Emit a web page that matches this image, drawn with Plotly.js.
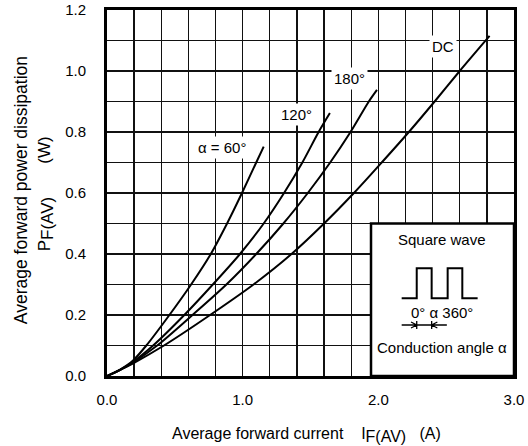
<!DOCTYPE html>
<html>
<head>
<meta charset="utf-8">
<script src="https://cdn.plot.ly/plotly-3.0.1.min.js"></script>
<style>html,body{margin:0;padding:0;background:#fff;}#chart{width:528px;height:446px;}</style>
</head>
<body>
<div id="chart"></div>
<script>
// ---- data ----
const seriesNames = ['α = 60°', '120°', '180°', 'DC'];

const current60 = [0, 0.1, 0.19, 0.29, 0.46, 0.62, 0.765, 0.885, 0.995, 1.1, 1.155];
const power60   = [0, 0.022, 0.05, 0.1, 0.2, 0.3, 0.4, 0.5, 0.6, 0.7, 0.752];

const current120 = [0, 0.1, 0.19, 0.34, 0.57, 0.78, 0.98, 1.155, 1.305, 1.44, 1.56, 1.643];
const power120   = [0, 0.021, 0.046, 0.1, 0.2, 0.3, 0.4, 0.5, 0.6, 0.7, 0.8, 0.862];

const current180 = [0, 0.1, 0.19, 0.37, 0.63, 0.88, 1.1, 1.3, 1.48, 1.645, 1.795, 1.93, 1.99];
const power180   = [0, 0.021, 0.044, 0.1, 0.2, 0.3, 0.4, 0.5, 0.6, 0.7, 0.8, 0.9, 0.938];

const currentDC = [0, 0.1, 0.19, 0.42, 0.76, 1.08, 1.36, 1.6, 1.82, 2.025, 2.225, 2.415, 2.6, 2.82];
const powerDC   = [0, 0.021, 0.041, 0.1, 0.2, 0.3, 0.4, 0.5, 0.6, 0.7, 0.8, 0.9, 1.0, 1.115];

const xTickVals = [0, 1, 2, 3];
const xTickText = ['0.0', '1.0', '2.0', '3.0'];
const yTickVals = [0, 0.2, 0.4, 0.6, 0.8, 1.0, 1.2];
const yTickText = ['0.0', '0.2', '0.4', '0.6', '0.8', '1.0', '1.2'];

// ---- styling / layout ----
const FONT = 'Liberation Sans, Arial, Helvetica, sans-serif';
const curveLine = {color: '#000', width: 2, shape: 'spline', smoothing: 0.8};

const xs = [current60, current120, current180, currentDC];
const ys = [power60, power120, power180, powerDC];
const traces = xs.map((x, k) => ({
  x: x, y: ys[k], name: seriesNames[k], type: 'scatter', mode: 'lines',
  line: curveLine, hoverinfo: 'skip', showlegend: false
}));

const gridCol = '#111';
const axisCommon = {
  showline: true, mirror: true, linecolor: '#000', linewidth: 3,
  showgrid: true, gridcolor: gridCol, gridwidth: 1.4,
  zeroline: false, ticks: '', fixedrange: true,
  tickfont: {family: FONT, size: 15, color: '#000'},
  tickmode: 'array'
};

const labelPos = [[0.845, 0.75], [1.398, 0.858], [1.787, 0.976], [2.48, 1.08]];
const curveLabels = seriesNames.map((t, k) => ({
  x: labelPos[k][0], y: labelPos[k][1], xref: 'x', yref: 'y', text: t,
  xanchor: 'center', yanchor: 'middle',
  showarrow: false, bgcolor: '#fff', borderpad: 2,
  font: {family: FONT, size: 15, color: '#000'}
}));

const big = '<span style="font-size:16px">';
const bigY = '<span style="font-size:17px">';
const layout = {
  width: 528, height: 446,
  margin: {l: 107, r: 14, t: 10, b: 70, pad: 0},
  paper_bgcolor: '#fff', plot_bgcolor: '#fff',
  font: {family: FONT, color: '#000'},
  xaxis: Object.assign({}, axisCommon, {
    range: [0, 3], tickvals: xTickVals, ticktext: xTickText, ticklabelstandoff: 8,
    minor: {tickmode: 'linear', tick0: 0, dtick: 0.2, showgrid: true, gridcolor: gridCol, gridwidth: 1.4, ticks: ''}
  }),
  yaxis: Object.assign({}, axisCommon, {
    range: [0, 1.2], tickvals: yTickVals, ticktext: yTickText, ticklabelstandoff: 15,
    minor: {tickmode: 'linear', tick0: 0, dtick: 0.1, showgrid: true, gridcolor: gridCol, gridwidth: 1.4, ticks: ''}
  }),
  shapes: [
    // inset box
    {type: 'rect', xref: 'x', yref: 'y', x0: 1.946, x1: 3.0, y0: 0, y1: 0.5,
     fillcolor: '#fff', line: {color: '#000', width: 2.5}, layer: 'above'},
    // square wave
    {type: 'path', xref: 'x', yref: 'y', layer: 'above', line: {color: '#000', width: 2},
     path: 'M2.172,0.255 L2.283,0.255 L2.283,0.353 L2.393,0.353 L2.393,0.255 L2.511,0.255 L2.511,0.353 L2.619,0.353 L2.619,0.255 L2.732,0.255'},
    // conduction arrows
    {type: 'path', xref: 'x', yref: 'y', layer: 'above', line: {color: '#000', width: 1.3},
     path: 'M2.172,0.1672 L2.505,0.1672 M2.283,0.1803 L2.283,0.1541 M2.393,0.1803 L2.393,0.1541 M2.241,0.1770 L2.283,0.1672 L2.241,0.1574 M2.435,0.1770 L2.393,0.1672 L2.435,0.1574'}
  ],
  annotations: curveLabels.concat([
    {x: 2.466, y: 0.446, xref: 'x', yref: 'y', xanchor: 'center', yanchor: 'middle', text: 'Square wave', showarrow: false,
     font: {family: FONT, size: 15, color: '#000'}},
    {x: 2.466, y: 0.209, xref: 'x', yref: 'y', xanchor: 'center', yanchor: 'middle', text: '0°\u00a0α\u00a0360°', showarrow: false,
     font: {family: FONT, size: 15, color: '#000'}},
    {x: 2.47, y: 0.093, xref: 'x', yref: 'y', xanchor: 'center', yanchor: 'middle', text: 'Conduction angle α', showarrow: false,
     font: {family: FONT, size: 15, color: '#000'}},
    // y-axis title (two lines)
    {xref: 'paper', yref: 'paper', x: -0.2096, y: 0.507, xanchor: 'center', yanchor: 'middle', textangle: -90, showarrow: false,
     text: 'Average forward power dissipation', font: {family: FONT, size: 17.5, color: '#000'}},
    {xref: 'paper', yref: 'paper', x: -0.15, y: 0.499, xanchor: 'center', yanchor: 'middle', textangle: -90, showarrow: false,
     text: 'P<sub>' + bigY + 'F(AV)</span></sub>\u00a0\u00a0\u00a0\u00a0\u00a0\u00a0\u00a0(W)',
     font: {family: FONT, size: 17, color: '#000'}},
    // x-axis title
    {xref: 'paper', yref: 'paper', x: 0.489, y: -0.16, xanchor: 'center', yanchor: 'middle', showarrow: false,
     text: 'Average forward current\u00a0\u00a0\u00a0\u00a0I<sub>' + big + 'F(AV)</span></sub>\u00a0\u00a0\u00a0(A)',
     font: {family: FONT, size: 16, color: '#000'}}
  ])
};

Plotly.newPlot('chart', traces, layout, {staticPlot: true, displayModeBar: false});
</script>
</body>
</html>
